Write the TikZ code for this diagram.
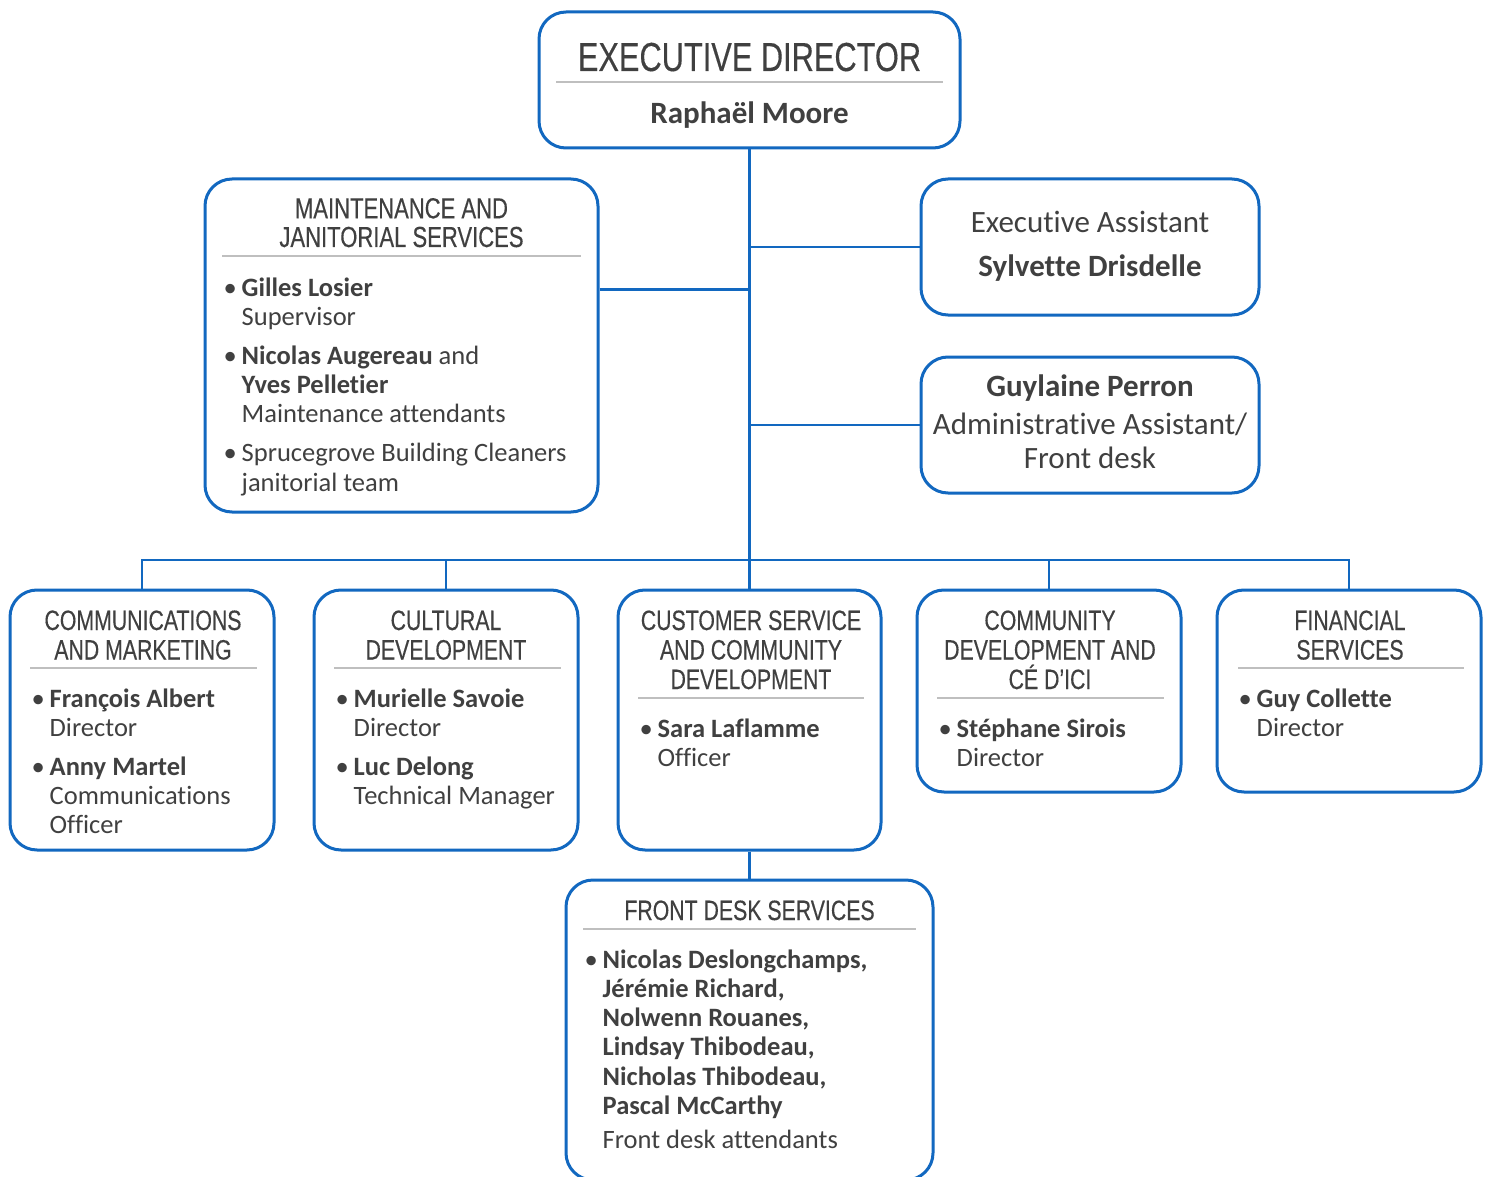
\documentclass[tikz,border=0pt]{standalone}
\usepackage{fontspec}
\setmainfont[Ligatures=NoCommon]{Carlito}
\newfontfamily\headfont[FakeStretch=0.76, FakeBold=0.3]{Liberation Sans}
\usetikzlibrary{calc}
\definecolor{orgblue}{RGB}{18,104,192}
\definecolor{inkgray}{RGB}{64,64,64}
\definecolor{rulegray}{RGB}{191,191,191}
\def\staff#1{\par\hangindent=18pt\hangafter=1\noindent\makebox[18pt][l]{•}#1\par}
\def\gap{\vspace{9.7pt}}
\def\roster#1{\parbox[t]{380pt}{\parskip=0pt\fontsize{26.5}{29.3}\selectfont #1}}
\tikzset{
	unit/.style={draw=orgblue, line width=3pt, rounded corners=27pt, fill=white},
	link/.style={draw=orgblue, line width=2.5pt},
	rule/.style={draw=rulegray, line width=1.5pt},
	head/.style={font=\headfont\fontsize{28}{29.5}\selectfont, text=inkgray, align=center, inner sep=0pt, anchor=base},
	roster/.style={text=inkgray, inner sep=0pt, anchor=base west},
	plain/.style={font=\fontsize{31}{34}\selectfont, text=inkgray, align=center, inner sep=0pt, anchor=base}
}

\begin{document}
\begin{tikzpicture}[x=1pt, y=-1pt]
			%%%%% START %%%%%
			
			\path[use as bounding box, fill=white] (0,0) rectangle (1489,1177);
			\clip (0,0) rectangle (1489,1177);
			
			% boxes
			\node[unit, minimum width=421pt, minimum height=136pt] (exec) at (749.5,80) {};
			\node[unit, minimum width=393pt, minimum height=333pt] (maint) at (401.5,345.5) {};
			\node[unit, minimum width=338pt, minimum height=136pt] (ea) at (1090,247) {};
			\node[unit, minimum width=338pt, minimum height=136pt] (gp) at (1090,425) {};
			\node[unit, minimum width=264pt, minimum height=260pt] (comm) at (142,720) {};
			\node[unit, minimum width=264pt, minimum height=260pt] (cult) at (446,720) {};
			\node[unit, minimum width=263pt, minimum height=260pt] (cust) at (749.5,720) {};
			\node[unit, minimum width=264pt, minimum height=202pt] (cdev) at (1049,691) {};
			\node[unit, minimum width=264pt, minimum height=202pt] (fin) at (1349,691) {};
			\node[unit, minimum width=367pt, minimum height=300pt] (front) at (749.5,1030) {};
			
			% connectors
			\coordinate (bus) at (749.5,560);
			\coordinate (maintport) at ($(maint.north east)!0.333!(maint.south east)$);
			\draw[link] (exec.south) -- (cust.north);
			\draw[link] (maintport) -- (maintport -| exec.south);
			\draw[link] (ea.west) -- (ea.west -| exec.south);
			\draw[link] (gp.west) -- (gp.west -| exec.south);
			\draw[link] (comm.north) |- (bus) -| (fin.north);
			\draw[link] (cult.north) -- (cult.north |- bus);
			\draw[link] (cdev.north) -- (cdev.north |- bus);
			\draw[link] (cust.south) -- (front.north);
			
			% executive director
			\node[plain, font=\headfont\fontsize{40.5}{40}\selectfont] (exechead) at (749.5,71) {EXECUTIVE DIRECTOR};
			\draw[rule] (556,82) -- (943,82);
			\node[plain, font=\bfseries\fontsize{31}{34}\selectfont] (execname) at (749.5,123.5) {Raphaël Moore};
			
			% right side (base = last line)
			\node[plain] (eatext) at (1090,276.7) {Executive Assistant\\[10.4pt]\textbf{Sylvette Drisdelle}};
			\node[plain] (gptext) at (1090,468.3) {\textbf{Guylaine Perron}\\[3.6pt]Administrative Assistant/\\Front desk};
			
			% maintenance
			\node[head, font=\headfont\fontsize{29}{28.7}\selectfont] (mainthead) at (401.5,247) {MAINTENANCE AND\\JANITORIAL SERVICES};
			\draw[rule] (222,256) -- (581,256);
			\node[roster] (maintlist) at (223.5,296) {\roster{%
				\staff{\textbf{Gilles Losier}\\Supervisor}\gap
				\staff{\textbf{Nicolas Augereau} and\\\textbf{Yves Pelletier}\\Maintenance attendants}\gap
				\staff{Sprucegrove Building Cleaners\\janitorial team}}};
			
			% units
			\node[head] (commhead) at (143,659.5) {COMMUNICATIONS\\AND MARKETING};
			\draw[rule] (30,668) -- (257,668);
			\node[roster] (commlist) at (31.5,707) {\roster{%
				\staff{\textbf{François Albert}\\Director}\gap
				\staff{\textbf{Anny Martel}\\Communications\\Officer}}};
			
			\node[head] (culthead) at (446,659.5) {CULTURAL\\DEVELOPMENT};
			\draw[rule] (334,668) -- (561,668);
			\node[roster] (cultlist) at (335.5,707) {\roster{%
				\staff{\textbf{Murielle Savoie}\\Director}\gap
				\staff{\textbf{Luc Delong}\\Technical Manager}}};
			
			\node[head] (custhead) at (751,689) {CUSTOMER SERVICE\\AND COMMUNITY\\DEVELOPMENT};
			\draw[rule] (638,698) -- (864,698);
			\node[roster] (custlist) at (639.5,737) {\roster{%
				\staff{\textbf{Sara Laflamme}\\Officer}}};
			
			\node[head] (cdevhead) at (1050,689) {COMMUNITY\\DEVELOPMENT AND\\CÉ D’ICI};
			\draw[rule] (937,698) -- (1164,698);
			\node[roster] (cdevlist) at (938.5,737) {\roster{%
				\staff{\textbf{Stéphane Sirois}\\Director}}};
			
			\node[head] (finhead) at (1350,659.5) {FINANCIAL\\SERVICES};
			\draw[rule] (1238,668) -- (1464,668);
			\node[roster] (finlist) at (1238.5,707) {\roster{%
				\staff{\textbf{Guy Collette}\\Director}}};
			
			% front desk
			\node[head] (fronthead) at (749.5,920) {FRONT DESK SERVICES};
			\draw[rule] (583,929) -- (916,929);
			\node[roster] (frontlist) at (584.5,968) {\roster{%
				\staff{\textbf{Nicolas Deslongchamps,\\Jérémie Richard,\\Nolwenn Rouanes,\\Lindsay Thibodeau,\\Nicholas Thibodeau,\\Pascal McCarthy}\\[4.5pt]Front desk attendants}}};
			
			%%%%% END %%%%%
\end{tikzpicture}
\end{document}
